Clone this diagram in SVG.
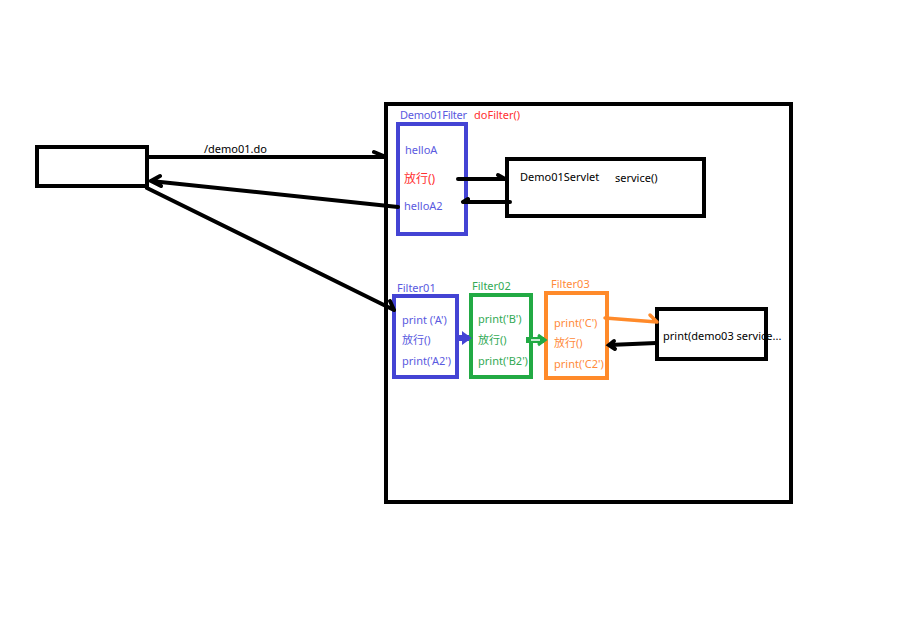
<svg xmlns="http://www.w3.org/2000/svg" width="924" height="621" viewBox="0 0 924 621">
<style>
.box{fill:#fff;stroke:#000;stroke-width:4}
.bl{fill:#fff;stroke:#4444d4;stroke-width:4}
.gr{fill:#fff;stroke:#22aa44;stroke-width:4}
.or{fill:#fff;stroke:#ff8a2a;stroke-width:4}
.ln{stroke:#000;stroke-width:4;fill:none;stroke-linecap:round}
text{font-family:"Noto Sans","Noto Sans CJK SC",sans-serif;font-size:11px}
.tb{fill:#5a5ae0}.tr{fill:#ff3030}.tg{fill:#33aa55}.to{fill:#ff8a3a}.tk{fill:#000}
</style>
<rect width="924" height="621" fill="#fff"/>
<g id="system"><rect class="box" x="386" y="104" width="405" height="398"/></g>
<g id="client"><rect class="box" x="37" y="147" width="110" height="39"/></g>
<g id="demo01filter">
<rect class="bl" x="398" y="124" width="68" height="110"/>
<text class="tb" x="400" y="119" textLength="67">Demo01Filter</text><text class="tr" x="474" y="119">doFilter()</text>
<text class="tb" x="405" y="154">helloA</text>
<text class="tr" x="404" y="183" style="font-size:12px">放行()</text>
<text class="tb" x="404" y="210">helloA2</text>
</g>
<g id="demo01servlet">
<rect class="box" x="507" y="159" width="197" height="57"/>
<text class="tk" x="520" y="181">Demo01Servlet</text><text class="tk" x="615" y="182">service()</text>
</g>
<g id="filter01">
<rect class="bl" x="394" y="296" width="63" height="81"/>
<text class="tb" x="397" y="292">Filter01</text>
<text class="tb" x="402" y="324">print ('A')</text>
<text class="tb" x="402" y="344">放行()</text>
<text class="tb" x="402" y="365">print('A2')</text>
</g>
<g id="filter02">
<rect class="gr" x="471" y="295" width="60" height="82"/>
<text class="tg" x="472" y="290">Filter02</text>
<text class="tg" x="478" y="323">print('B')</text>
<text class="tg" x="478" y="344">放行()</text>
<text class="tg" x="478" y="365">print('B2')</text>
</g>
<g id="filter03">
<rect class="or" x="546" y="293" width="61" height="85"/>
<text class="to" x="551" y="288">Filter03</text>
<text class="to" x="554" y="327">print('C')</text>
<text class="to" x="554" y="347">放行()</text>
<text class="to" x="554" y="368">print('C2')</text>
</g>
<g id="demo03servlet">
<rect class="box" x="657" y="309" width="109" height="50"/>
<text class="tk" x="663" y="340">print(demo03 service...</text>
</g>
<g id="connectors">
<path class="ln" d="M147 157 H386 M374 152 L386 157"/>
<text class="tk" x="204" y="153">/demo01.do</text>
<path class="ln" d="M398 207 L151 181 M161 186 L151 181 L160 176"/>
<path class="ln" d="M147 188 L394 310 M390 301 L394 310"/>
<path class="ln" d="M458 179 H505 M498 175 L505 179"/>
<path class="ln" d="M510 202 H463 M468 199 L463 202"/>
<path d="M455 338 H469" stroke="#4444d4" stroke-width="6" fill="none"/>
<path d="M463 333 L470 338 L463 343 Z" fill="#4444d4" stroke="#4444d4" stroke-width="2"/>
<path d="M526 340 H544" stroke="#22aa44" stroke-width="6" fill="none"/>
<path d="M538 335 L545 340 L538 345" stroke="#22aa44" stroke-width="3" fill="none"/>
<path d="M531 340 H540" stroke="#fff" stroke-width="1.5"/>
<path d="M605 318 L657 322 M650 315 L657 322" stroke="#ff8a2a" stroke-width="3.5" fill="none" stroke-linecap="round"/>
<path class="ln" d="M656 343 L609 345 M614 341 L609 345 L615 349"/>
</g>
</svg>
